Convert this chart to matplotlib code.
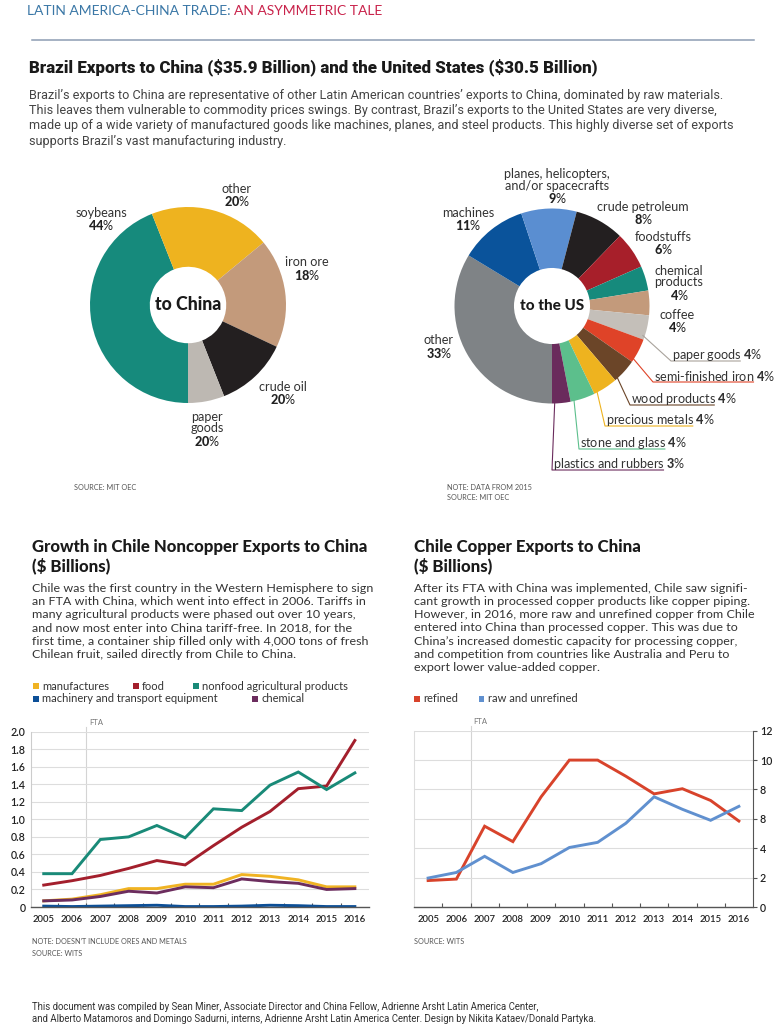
import matplotlib
matplotlib.use('Agg')
import numpy as np
import matplotlib.pyplot as plt
from matplotlib.patches import Rectangle
from matplotlib.lines import Line2D

W, H = 777, 1024
BODY = 'Lato'
NARROW = 'Roboto'

plt.rcParams['font.family'] = [BODY, 'DejaVu Sans']
plt.rcParams['mathtext.fontset'] = 'custom'
plt.rcParams['mathtext.rm'] = BODY
plt.rcParams['mathtext.bf'] = BODY + ':black'

# ---- data -------------------------------------------------------------
china_names = ['soybeans', 'other', 'iron ore', 'crude oil', 'paper\ngoods']
china_values = [44, 20, 18, 12, 6]
china_pct = ['44', '20', '18', '20', '20']          # as printed
china_colors = ['#168a7c', '#eeb31f', '#c39a7b', '#231f20', '#bdb8b2']

us_names = ['other', 'machines', 'planes, helicopters,\nand/or spacecrafts',
            'crude petroleum', 'foodstuffs', 'chemical\nproducts', 'coffee',
            'paper goods', 'semi-finished iron', 'wood products',
            'precious metals', 'stone and glass', 'plastics and rubbers']
us_values = [33, 11, 9, 8, 6, 4, 4, 4, 4, 4, 4, 4, 3]
us_colors = ['#7f8386', '#0a539b', '#5a8ed1', '#231f20', '#a71f2a', '#168a7c',
             '#c39a7b', '#c4bfb9', '#df4328', '#6b4528', '#eeb31f', '#5cbf8c',
             '#6a2b5c']

years = list(range(2005, 2017))
manufactures = [0.07, 0.09, 0.14, 0.21, 0.21, 0.26, 0.26, 0.37, 0.35, 0.31, 0.23, 0.23]
food = [0.25, 0.30, 0.36, 0.44, 0.53, 0.48, 0.70, 0.91, 1.09, 1.35, 1.38, 1.90]
nonfood = [0.38, 0.38, 0.77, 0.80, 0.93, 0.79, 1.12, 1.10, 1.39, 1.54, 1.34, 1.53]
machinery = [0.01, 0.005, 0.01, 0.015, 0.02, 0.005, 0.005, 0.01, 0.02, 0.015, 0.005, 0.005]
chemical = [0.07, 0.08, 0.12, 0.18, 0.16, 0.23, 0.22, 0.32, 0.29, 0.27, 0.20, 0.21]

refined = [1.8, 1.9, 5.5, 4.45, 7.5, 10.0, 10.0, 8.9, 7.7, 8.05, 7.25, 5.85]
raw_unrefined = [1.97, 2.35, 3.45, 2.35, 2.95, 4.05, 4.4, 5.7, 7.5, 6.65, 5.9, 6.85]

chile_yticks = [0, 0.2, 0.4, 0.6, 0.8, 1.0, 1.2, 1.4, 1.6, 1.8, 2.0]
chile_ylabels = ['0', '0.2', '0.4', '0.6', '0.8', '1.0', '1.2', '1.4', '1.6', '1.8', '2.0']
copper_yticks = [0, 2, 4, 6, 8, 10, 12]
copper_ylabels = ['0', '2', '4', '8', '8', '10', '12']   # as printed

TEAL, RED, YEL, PUR, BLUE = '#198a78', '#a31f2c', '#f0b323', '#6c2d5e', '#0c4f97'
REFINED, RAW = '#d8432b', '#6090cf'
TXT = '#222222'
GRAY = '#444444'

fig = plt.figure(figsize=(W / 100, H / 100), dpi=100)
fig.patch.set_facecolor('white')
rend = fig.canvas.get_renderer()


def fpos(x, y):
    return x / W, 1 - y / H


def text_w(s, **kw):
    t = fig.text(0, 0, s, **kw)
    w = t.get_window_extent(renderer=rend).width
    t.remove()
    return w


def fit(s, width, **kw):
    return 10 * width / text_w(s, fontsize=10, **kw)


def put(x, y, s, **kw):
    kw.setdefault('va', 'center')
    kw.setdefault('color', TXT)
    return fig.text(*fpos(x, y), s, **kw)


def box(x0, ytop, x1, ybot):
    return [x0 / W, 1 - ybot / H, (x1 - x0) / W, (ybot - ytop) / H]


def hline(x0, x1, y, **kw):
    fig.add_artist(Line2D([x0 / W, x1 / W], [1 - y / H, 1 - y / H],
                          transform=fig.transFigure, **kw))


# ---- header -------------------------------------------------------------
head_a = 'LATIN AMERICA-CHINA TRADE: '
head_b = 'AN ASYMMETRIC TALE'
hs = fit(head_a + head_b, 354, family=BODY)
full = text_w(head_a + head_b, fontsize=hs, family=BODY)
put(27, 11, head_a.strip(), fontsize=hs, family=BODY, color='#3a77a6')
put(27 + full, 11, head_b, fontsize=hs, family=BODY, color='#c9234b', ha='right')
hline(32, 754, 40, color='#8d9db3', lw=1.1)

title = r'Brazil Exports to China (\$35.9 Billion) and the United States (\$30.5 Billion)'
ts = fit(title, 566, family=NARROW, weight='black')
put(29, 67, title, fontsize=ts, family=NARROW, weight='black', color='#1a1a1a')

intro = ["Brazil\u2019s exports to China are representative of other Latin American countries\u2019 exports to China, dominated by raw materials.",
         "This leaves them vulnerable to commodity prices swings. By contrast, Brazil\u2019s exports to the United States are very diverse,",
         "made up of a wide variety of manufactured goods like machines, planes, and steel products. This highly diverse set of exports",
         "supports Brazil\u2019s vast manufacturing industry."]
ps = fit(intro[2], 704, family=NARROW)
for i, line in enumerate(intro):
    put(29, 95 + 15.4 * i, line, fontsize=ps, family=NARROW, color=GRAY)

# ---- donuts -------------------------------------------------------------
lab_size = fit('soybeans', 52, family=BODY)


def donut(cx, cy, r, values, colors):
    ax = fig.add_axes([(cx - r) / W, 1 - (cy + r) / H, 2 * r / W, 2 * r / H])
    wedges, _ = ax.pie(values, colors=colors, startangle=270, counterclock=False,
                       radius=1, wedgeprops=dict(width=0.61, linewidth=0))
    ax.set_xlim(-1, 1)
    ax.set_ylim(-1, 1)
    ax.set_axis_off()
    return wedges


def block_label(x, y, name, pct):
    lines = name.split('\n')
    for i, ln in enumerate(lines):
        put(x, y + 11.5 * i, ln, fontsize=lab_size, ha='center', color='#333333')
    put(x, y + 11.5 * (len(lines) - 1) + 12.5, r'$\mathbf{%s}$%%' % pct,
        fontsize=lab_size, ha='center', color='#222222')


donut(188, 305, 98, china_values, china_colors)
cs = fit('to China', 67, family=BODY, weight='black')
put(188, 305, 'to China', fontsize=cs, weight='black', ha='center', color='#1a1a1a')
china_pos = [(101, 213), (237, 189), (307, 262), (283, 387), (207, 417)]
for (x, y), n, p in zip(china_pos, china_names, china_pct):
    block_label(x, y, n, p)

note_size = fit('NOTE: DOESN\u2019T INCLUDE ORES AND METALS', 153, family=BODY)
put(74, 487, 'SOURCE: MIT OEC', fontsize=note_size, color='#555555')

ucx, ucy, ur = 552, 306, 97.5
us_wedges = donut(ucx, ucy, ur, us_values, us_colors)
us_cs = fit('to the US', 64, family=BODY, weight='black')
put(ucx, ucy, 'to the US', fontsize=us_cs, weight='black', ha='center', color='#1a1a1a')
us_block_pos = [(439, 340), (468, 213), (557, 174), (643, 207), (663, 237),
                (679, 271), (677, 315)]
for i, (x, y) in enumerate(us_block_pos):
    block_label(x, y, us_names[i], str(us_values[i]))

us_leader_pos = [(672, 355), (654, 376), (631, 399), (606, 420), (580, 443), (553, 464)]
for k, (x, y) in enumerate(us_leader_pos):
    i = 7 + k
    wdg = us_wedges[i]
    ang = np.deg2rad(wdg.theta1 + 0.15 * (wdg.theta2 - wdg.theta1))
    sx = ucx + ur * 0.98 * np.cos(ang)
    sy = ucy - ur * 0.98 * np.sin(ang)
    ly = y + 6
    name_w = text_w(us_names[i], fontsize=lab_size)
    lc = '#a9a39c' if i == 7 else us_colors[i]
    fig.add_artist(Line2D([sx / W, (x - 1) / W, (x + name_w) / W],
                          [1 - sy / H, 1 - ly / H, 1 - ly / H],
                          transform=fig.transFigure, color=lc, lw=0.8))
    put(x, y, us_names[i] + r' $\mathbf{%d}$%%' % us_values[i],
        fontsize=lab_size, color='#333333')

put(447, 487, 'NOTE: DATA FROM 2015', fontsize=note_size, color='#555555')
put(447, 498, 'SOURCE: MIT OEC', fontsize=note_size, color='#555555')

# ---- chart texts ----------------------------------------------------------
ct = fit('Growth in Chile Noncopper Exports to China', 334, family=BODY, weight='black')
put(32, 547, 'Growth in Chile Noncopper Exports to China', fontsize=ct, weight='black', color='#1a1a1a')
put(32, 566, r'(\$ Billions)', fontsize=ct, weight='black', color='#1a1a1a')
put(414, 547, 'Chile Copper Exports to China', fontsize=ct, weight='black', color='#1a1a1a')
put(414, 566, r'(\$ Billions)', fontsize=ct, weight='black', color='#1a1a1a')

para1 = ["Chile was the first country in the Western Hemisphere to sign",
         "an FTA with China, which went into effect in 2006. Tariffs in",
         "many agricultural products were phased out over 10 years,",
         "and now most enter into China tariff-free. In 2018, for the",
         "first time, a container ship filled only with 4,000 tons of fresh",
         "Chilean fruit, sailed directly from Chile to China."]
para2 = ["After its FTA with China was implemented, Chile saw signifi-",
         "cant growth in processed copper products like copper piping.",
         "However, in 2016, more raw and unrefined copper from Chile",
         "entered into China than processed copper. This was due to",
         "China\u2019s increased domestic capacity for processing copper,",
         "and competition from countries like Australia and Peru to",
         "export lower value-added copper."]
bs = fit(para1[0], 339, family=BODY)
for i, line in enumerate(para1):
    put(32, 588 + 13.3 * i, line, fontsize=bs, color='#333333')
for i, line in enumerate(para2):
    put(414, 588 + 13.3 * i, line, fontsize=bs, color='#333333')

leg_size = fit('nonfood agricultural products', 145, family=BODY)


def legend_item(x, y, color, label):
    fig.add_artist(Rectangle(((x) / W, 1 - (y + 2.7) / H), 5.5 / W, 5.5 / H,
                             transform=fig.transFigure, color=color, lw=0))
    put(x + 9, y, label, fontsize=leg_size, color='#333333')


legend_item(33, 686, YEL, 'manufactures')
legend_item(133, 686, RED, 'food')
legend_item(193, 686, TEAL, 'nonfood agricultural products')
legend_item(33, 699, BLUE, 'machinery and transport equipment')
legend_item(252, 699, PUR, 'chemical')
legend_item(414, 699, REFINED, 'refined')
legend_item(479, 699, RAW, 'raw and unrefined')

# ---- line charts --------------------------------------------------------
tick_size = fit('2005', 22, family=BODY, weight='semibold')


def style_axis(ax, xlim):
    ax.set_xlim(*xlim)
    ax.set_xticks(years)
    ax.set_xticklabels([str(y) for y in years])
    ax.set_xticks(np.arange(2005.5, 2016, 1), minor=True)
    ax.tick_params(axis='x', which='major', length=0, pad=6, labelsize=tick_size,
                   labelcolor=TXT)
    ax.tick_params(axis='x', which='minor', direction='in', length=3, width=0.8,
                   color='#555555')
    for lab in ax.get_xticklabels():
        lab.set_fontweight('semibold')
    ax.grid(axis='y', color='#dddddd', lw=0.8)
    ax.set_axisbelow(True)
    for s in ['top', 'right', 'left']:
        ax.spines[s].set_visible(False)
    ax.spines['bottom'].set_color('#555555')
    ax.spines['bottom'].set_linewidth(1.0)
    ax.axvline(2006.5, ymin=0, ymax=1.025, color='#d4d4d4', lw=0.8, clip_on=False, zorder=0)
    ax.text(2006.6, 1.05, 'FTA', transform=ax.get_xaxis_transform(), fontsize=note_size * 1.05,
            color='#777777', va='center')


ax1 = fig.add_axes(box(31, 731.7, 369, 907))
style_axis(ax1, (2004.55, 2016.5))
ax1.spines['left'].set_visible(True)
ax1.spines['left'].set_color('#cccccc')
ax1.set_ylim(0, 2.0)
ax1.set_yticks(chile_yticks)
ax1.set_yticklabels(chile_ylabels)
ax1.tick_params(axis='y', length=0, pad=4, labelsize=tick_size * 1.12, labelcolor=TXT)
for lab in ax1.get_yticklabels():
    lab.set_fontweight('semibold')
for vals, col in [(manufactures, YEL), (chemical, PUR), (food, RED),
                  (nonfood, TEAL), (machinery, BLUE)]:
    ax1.plot(years, vals, color=col, lw=2.1, clip_on=False, solid_joinstyle='miter')

put(32, 941, 'NOTE: DOESN\u2019T INCLUDE ORES AND METALS', fontsize=note_size, color='#555555')
put(32, 953, 'SOURCE: WITS', fontsize=note_size, color='#555555')

ax2 = fig.add_axes(box(414, 730.7, 753, 907))
style_axis(ax2, (2004.5, 2016.5))
ax2.spines['left'].set_visible(True)
ax2.spines['left'].set_color('#dddddd')
ax2.spines['right'].set_visible(True)
ax2.spines['right'].set_color('#555555')
ax2.set_ylim(0, 12)
ax2.yaxis.tick_right()
ax2.set_yticks(copper_yticks)
ax2.set_yticklabels(copper_ylabels)
ax2.tick_params(axis='y', direction='out', length=3, width=0.8, color='#555555',
                pad=2, labelsize=tick_size * 1.12, labelcolor=TXT)
for lab in ax2.get_yticklabels():
    lab.set_fontweight('semibold')
ax2.plot(years, refined, color=REFINED, lw=2.1, solid_joinstyle='miter')
ax2.plot(years, raw_unrefined, color=RAW, lw=2.1, solid_joinstyle='miter')
put(414, 941, 'SOURCE: WITS', fontsize=note_size, color='#555555')

# ---- footer -------------------------------------------------------------
foot = ["This document was compiled by Sean Miner, Associate Director and China Fellow, Adrienne Arsht Latin America Center,",
        "and Alberto Matamoros and Domingo Sadurni, interns, Adrienne Arsht Latin America Center. Design by Nikita Kataev/Donald Partyka."]
fs = fit(foot[1], 569, family=NARROW)
for i, line in enumerate(foot):
    put(32, 1007 + 11.5 * i, line, fontsize=fs, family=NARROW, color='#333333')

fig.savefig('out.png', dpi=100, facecolor='white')
